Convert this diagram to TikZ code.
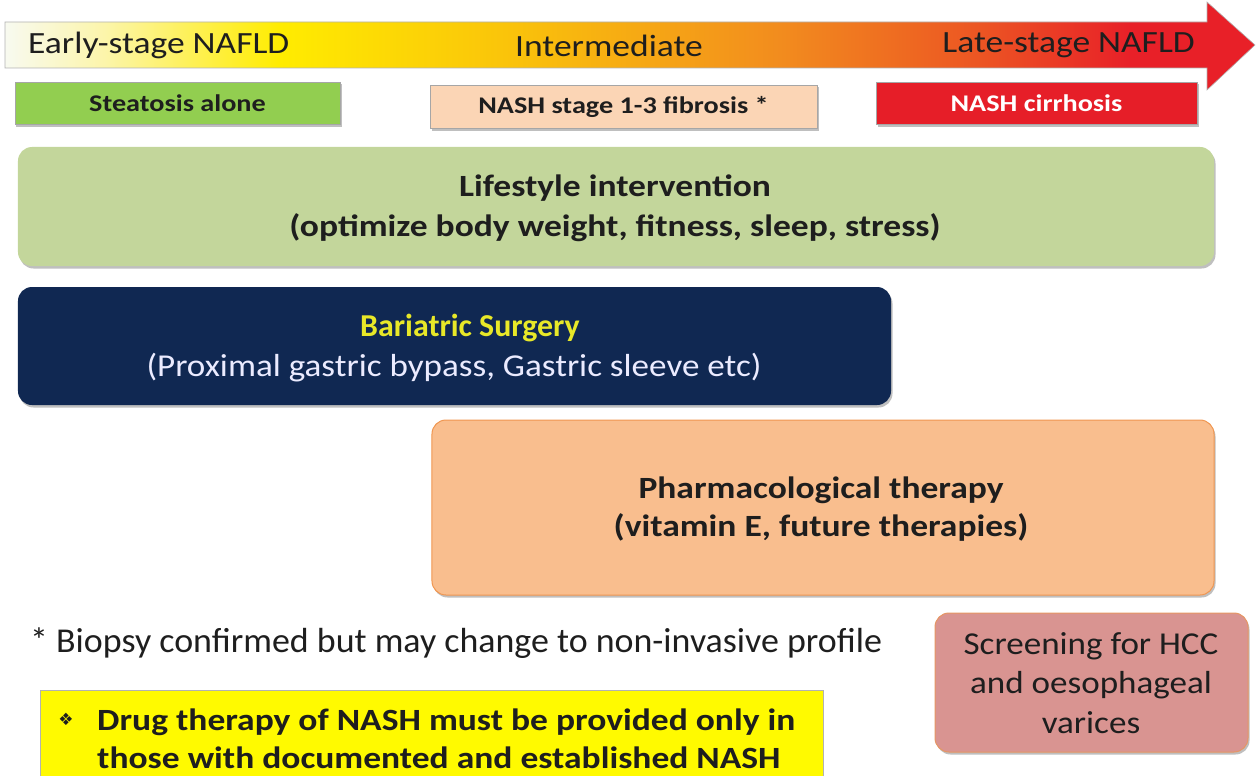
\documentclass[tikz,border=0pt]{standalone}
\usepackage{fontspec}
\setmainfont{Carlito}
\newfontfamily\symfont{DejaVu Sans}
% slightly widened cuts of the text face
\newfontfamily\wideA[FakeStretch=1.15]{Carlito}
\newfontfamily\wideB[FakeStretch=1.18]{Carlito}
\newfontfamily\wideC[FakeStretch=1.1]{Carlito}
\newfontfamily\wideD[FakeStretch=1.03]{Carlito}
\usetikzlibrary{shadows}

\definecolor{stgCream}{RGB}{248,250,240}
\definecolor{stgPale}{RGB}{252,245,170}
\definecolor{stgYellow}{RGB}{255,236,0}
\definecolor{stgGold}{RGB}{250,196,10}
\definecolor{stgOrange}{RGB}{242,140,30}
\definecolor{stgRedOr}{RGB}{236,85,35}
\definecolor{stgRed}{RGB}{232,32,40}
\definecolor{steatGreen}{RGB}{146,206,80}
\definecolor{nashPeach}{RGB}{251,213,181}
\definecolor{cirrRed}{RGB}{230,30,40}
\definecolor{lifeGreen}{RGB}{195,214,155}
\definecolor{bariNavy}{RGB}{16,40,82}
\definecolor{bariYellow}{RGB}{232,232,40}
\definecolor{pharmOrange}{RGB}{249,190,142}
\definecolor{pharmEdge}{RGB}{240,150,80}
\definecolor{screenPink}{RGB}{217,148,145}
\definecolor{screenEdge}{RGB}{230,150,100}
\definecolor{noteYellow}{RGB}{255,250,0}
\definecolor{textDark}{RGB}{30,30,30}

\pgfdeclarehorizontalshading{stagebar}{100bp}{%
  color(0bp)=(stgCream); color(25bp)=(stgCream); color(29bp)=(stgPale);
  color(36bp)=(stgYellow); color(45bp)=(stgGold); color(56bp)=(stgOrange);
  color(64bp)=(stgRedOr); color(70bp)=(stgRed); color(100bp)=(stgRed)}

\tikzset{
  softshadow/.style={drop shadow={shadow xshift=1.5bp,shadow yshift=-2.5bp,fill=black,opacity=0.25}},
  stagebox/.style={rectangle,draw=gray!70,line width=0.8bp,softshadow,font=\wideB\fontsize{24}{28}\selectfont\bfseries,inner sep=0pt},
  bigbox/.style={rectangle,rounded corners=14bp,softshadow,inner sep=0pt,align=center},
  barlabel/.style={font=\wideA\fontsize{31}{36}\selectfont,text=textDark,inner sep=0pt},
  boxtext/.style={font=\wideA\fontsize{31}{40}\selectfont\bfseries,text=textDark,align=center}
}

\begin{document}
\begin{tikzpicture}[x=1bp,y=-1bp]
\useasboundingbox (0,0) rectangle (1258,776);

% progression arrow
\shade[shading=stagebar,draw=gray!60,line width=0.6bp]
  (5,22) -- (1207,22) -- (1207,2) -- (1255,45) -- (1207,90) -- (1207,68) -- (5,68) -- cycle;
\node[barlabel,anchor=west] (early) at (28,45) {Early-stage NAFLD};
\node[barlabel] (inter) at (609,46) {Intermediate};
\node[barlabel,anchor=east] (late) at (1195,45) {Late-stage NAFLD};

% disease stages
\node[stagebox,fill=steatGreen,text=textDark,minimum width=325bp,minimum height=42bp] (steat) at (177.5,103) {Steatosis alone};
\node[stagebox,fill=nashPeach,text=textDark,minimum width=387bp,minimum height=43bp] (nash) at (623.5,106.5) {NASH stage 1-3 fibrosis *};
\node[stagebox,fill=cirrRed,text=white,minimum width=321bp,minimum height=42bp] (cirr) at (1036.5,103) {NASH cirrhosis};

% interventions
\node[bigbox,fill=lifeGreen,minimum width=1196bp,minimum height=119bp] (life) at (616,206.5) {};
\node[boxtext] (lifetxt) at (615,208)
  {Lifestyle intervention\\(optimize body weight, fitness, sleep, stress)};

\node[bigbox,fill=bariNavy,minimum width=873bp,minimum height=118bp] (bari) at (454.5,346) {};
\node[align=center,font=\fontsize{32}{40}\selectfont] (baritxt) at (454,348)
  {\hspace*{32bp}\textcolor{bariYellow}{\bfseries Bariatric Surgery}\\
   \textcolor{white!92!blue}{\wideC (Proximal gastric bypass, Gastric sleeve etc)}};

\node[bigbox,fill=pharmOrange,draw=pharmEdge,line width=1bp,minimum width=782bp,minimum height=175bp] (pharm) at (823,507.5) {};
\node[boxtext,font=\wideA\fontsize{31}{38}\selectfont\bfseries] (pharmtxt) at (821,509)
  {Pharmacological therapy\\(vitamin E, future therapies)};

% notes
\node[anchor=west,inner sep=0pt,text=textDark,font=\wideD\fontsize{35}{40}\selectfont] (foot) at (30,643) {* Biopsy confirmed but may change to non-invasive profile};

\node[rectangle,fill=noteYellow,draw=gray!60,line width=0.8bp,minimum width=783bp,minimum height=100bp,anchor=north west,inner sep=0pt] (drug) at (40,690) {};
\node[anchor=west,font=\wideA\fontsize{31}{38}\selectfont\bfseries,text=textDark,align=left,inner sep=0pt] (drugtxt) at (97,739)
  {Drug therapy of NASH must be provided only in\\those with documented and established NASH};
\node[font=\symfont\fontsize{17}{20}\selectfont,text=textDark,inner sep=0pt] (bullet) at (66,719) {❖};

\node[bigbox,fill=screenPink,draw=screenEdge,line width=1bp,minimum width=313bp,minimum height=139bp] (screen) at (1091.5,682.5) {};
\node[font=\wideC\fontsize{32}{40}\selectfont,text=textDark,align=center] (screentxt) at (1091,683)
  {Screening for HCC\\and oesophageal\\varices};
\end{tikzpicture}
\end{document}
